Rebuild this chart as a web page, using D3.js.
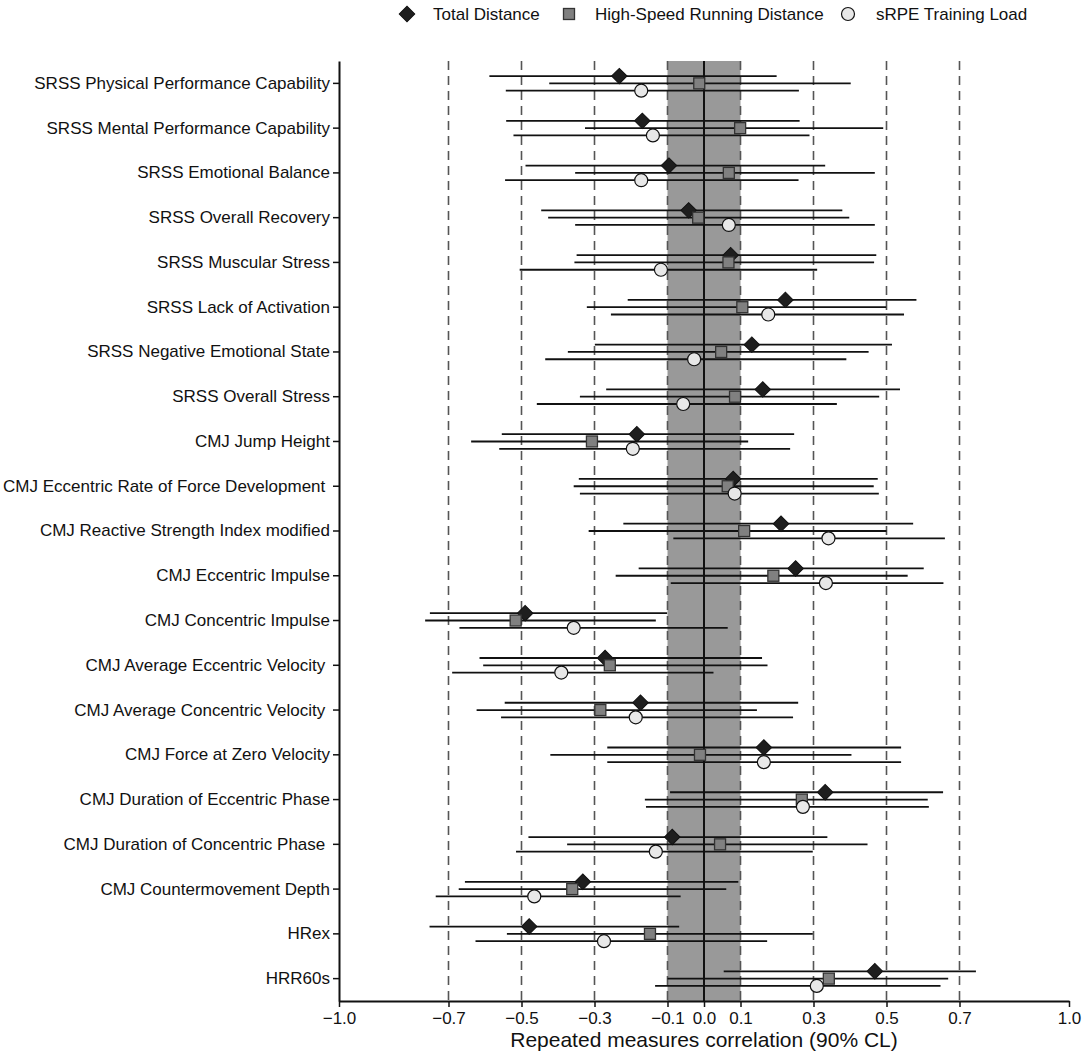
<!DOCTYPE html>
<html>
<head>
<meta charset="utf-8">
<script src="https://cdn.jsdelivr.net/npm/d3@7"></script>
<style>
  body { margin: 0; background: #fff; }
  text { font-family: "Liberation Sans", Arial, sans-serif; fill: #111; }
</style>
</head>
<body>
<script>
var labels = [
  'SRSS Physical Performance Capability',
  'SRSS Mental Performance Capability',
  'SRSS Emotional Balance',
  'SRSS Overall Recovery',
  'SRSS Muscular Stress',
  'SRSS Lack of Activation',
  'SRSS Negative Emotional State',
  'SRSS Overall Stress',
  'CMJ Jump Height',
  'CMJ Eccentric Rate of Force Development ',
  'CMJ Reactive Strength Index modified',
  'CMJ Eccentric Impulse',
  'CMJ Concentric Impulse',
  'CMJ Average Eccentric Velocity ',
  'CMJ Average Concentric Velocity ',
  'CMJ Force at Zero Velocity',
  'CMJ Duration of Eccentric Phase',
  'CMJ Duration of Concentric Phase ',
  'CMJ Countermovement Depth',
  'HRex',
  'HRR60s'
]

var seriesNames = ['Total Distance', 'High-Speed Running Distance', 'sRPE Training Load']

// total distance
var tdEst = [-0.232, -0.169, -0.096, -0.042, 0.073, 0.223, 0.131, 0.161, -0.184, 0.080, 0.211, 0.251, -0.490, -0.271, -0.174, 0.164, 0.332, -0.087, -0.332, -0.479, 0.468]
var tdLo  = [-0.588, -0.542, -0.489, -0.446, -0.349, -0.209, -0.299, -0.268, -0.554, -0.343, -0.221, -0.179, -0.751, -0.615, -0.546, -0.265, -0.093, -0.481, -0.655, -0.752, 0.054]
var tdHi  = [0.199, 0.262, 0.332, 0.379, 0.472, 0.582, 0.515, 0.537, 0.247, 0.476, 0.573, 0.602, -0.101, 0.159, 0.258, 0.540, 0.655, 0.338, 0.094, -0.068, 0.745]

// high-speed running
var hsrEst = [-0.013, 0.099, 0.068, -0.016, 0.067, 0.105, 0.047, 0.085, -0.307, 0.065, 0.110, 0.190, -0.516, -0.258, -0.284, -0.011, 0.268, 0.044, -0.361, -0.148, 0.342]
var hsrLo  = [-0.424, -0.326, -0.353, -0.427, -0.355, -0.321, -0.373, -0.340, -0.638, -0.357, -0.316, -0.242, -0.764, -0.605, -0.623, -0.421, -0.162, -0.375, -0.672, -0.540, -0.100]
var hsrHi  = [0.402, 0.491, 0.468, 0.398, 0.466, 0.499, 0.451, 0.480, 0.121, 0.465, 0.500, 0.558, -0.132, 0.174, 0.145, 0.404, 0.613, 0.448, 0.061, 0.298, 0.669]

// sRPE
var rpeEst = [-0.172, -0.140, -0.172, 0.068, -0.118, 0.176, -0.027, -0.057, -0.195, 0.084, 0.341, 0.334, -0.357, -0.391, -0.187, 0.164, 0.271, -0.132, -0.465, -0.274, 0.309]
var rpeLo  = [-0.543, -0.522, -0.545, -0.353, -0.505, -0.255, -0.435, -0.458, -0.561, -0.340, -0.084, -0.091, -0.670, -0.690, -0.556, -0.265, -0.159, -0.515, -0.735, -0.626, -0.134]
var rpeHi  = [0.260, 0.289, 0.259, 0.468, 0.310, 0.548, 0.390, 0.364, 0.236, 0.479, 0.660, 0.656, 0.065, 0.026, 0.244, 0.540, 0.616, 0.298, -0.064, 0.173, 0.648]

var xTicks = [-1.0, -0.7, -0.5, -0.3, -0.1, 0.0, 0.1, 0.3, 0.5, 0.7, 1.0]
var refLines = [-0.7, -0.5, -0.3, 0.3, 0.5, 0.7]
var trivialBand = [-0.1, 0.1]

var margin = {left: 339, top: 61, right: 15, bottom: 55}
var W = 1084, H = 1056
var width = W - margin.left - margin.right
var height = H - margin.top - margin.bottom
var font = '"Liberation Sans", Arial, sans-serif'

var svg = d3.select('body').append('svg').attr('width', W).attr('height', H)
var g = svg.append('g').attr('transform', 'translate(' + margin.left + ',' + margin.top + ')')

var x = d3.scaleLinear().domain([-1, 1]).range([0, width])
var y = d3.scaleBand().domain(labels).range([0, height])
var mid = function(l){ return y(l) + y.bandwidth() / 2 }

// trivial zone
g.append('rect')
  .attr('x', x(trivialBand[0])).attr('width', x(trivialBand[1]) - x(trivialBand[0]))
  .attr('y', 0).attr('height', height)
  .style('fill', '#999')

g.append('g').selectAll('line').data(refLines.concat(trivialBand)).enter().append('line')
  .attr('x1', x).attr('x2', x).attr('y1', 0).attr('y2', height)
  .style('stroke', '#555').style('stroke-width', 1.6).style('stroke-dasharray', '9,6')

g.append('line').attr('x1', x(0)).attr('x2', x(0)).attr('y1', 0).attr('y2', height)
  .style('stroke', '#111').style('stroke-width', 2)

var series = [
  {name: seriesNames[0], est: tdEst, lo: tdLo, hi: tdHi, off: -7.3},
  {name: seriesNames[1], est: hsrEst, lo: hsrLo, hi: hsrHi, off: 0},
  {name: seriesNames[2], est: rpeEst, lo: rpeLo, hi: rpeHi, off: 7.3}
]

var rows = series.map(function(s, si){
  return labels.map(function(l, i){
    return {label: l, si: si, est: s.est[i], lo: s.lo[i], hi: s.hi[i], cy: mid(l) + s.off}
  })
})

// confidence limits
rows.forEach(function(r){
  g.append('g').selectAll('line').data(r).enter().append('line')
    .attr('x1', function(d){ return x(d.lo) })
    .attr('x2', function(d){ return x(d.hi) })
    .attr('y1', function(d){ return d.cy })
    .attr('y2', function(d){ return d.cy })
    .style('stroke', '#111').style('stroke-width', 1.8)
})

function marker(sel, si){
  if (si === 0) {
    sel.append('path').attr('d', d3.symbol().type(d3.symbolSquare).size(120)())
      .attr('transform', 'rotate(45)')
      .style('fill', '#1e1e1e').style('stroke', '#111').style('stroke-width', 1)
  } else if (si === 1) {
    sel.append('rect').attr('x', -5.5).attr('y', -5.5).attr('width', 11).attr('height', 11)
      .style('fill', '#808080').style('stroke', '#333').style('stroke-width', 1.3)
  } else {
    sel.append('circle').attr('r', 6.5)
      .style('fill', '#e8e8e8').style('stroke', '#111').style('stroke-width', 1.2)
  }
}

rows.forEach(function(r, si){
  var pts = g.append('g').selectAll('g').data(r).enter().append('g')
    .attr('transform', function(d){ return 'translate(' + x(d.est) + ',' + d.cy + ')' })
  marker(pts, si)
})

// axes
var xAxis = d3.axisBottom(x).tickValues(xTicks).tickSize(6).tickSizeOuter(0)
  .tickFormat(d3.format('.1f'))
var gx = g.append('g').attr('transform', 'translate(0,' + height + ')').call(xAxis)
gx.select('.domain').style('stroke', '#111').style('stroke-width', 2)
gx.selectAll('.tick line').style('stroke', '#111').style('stroke-width', 1.5)
gx.selectAll('.tick text').attr('dy', '0.85em').style('font-size', '17px')
  .style('font-family', font).style('fill', '#111')

var yAxis = d3.axisLeft(y).tickSize(6).tickSizeOuter(0).tickPadding(3)
var gy = g.append('g').call(yAxis)
gy.select('.domain').style('stroke', '#111').style('stroke-width', 2)
gy.selectAll('.tick line').style('stroke', '#111').style('stroke-width', 1.5)
gy.selectAll('.tick text').style('font-size', '17px').style('white-space', 'pre')
  .style('font-family', font).style('fill', '#111')

svg.append('text').attr('x', margin.left + x(0)).attr('y', 1047)
  .attr('text-anchor', 'middle').style('font-size', '21px')
  .text('Repeated measures correlation (90% CL)')

// legend
var legendX = [407, 569, 848]
var legendTextX = [433, 595, 876]
var lg = svg.append('g')
seriesNames.forEach(function(n, si){
  var m = lg.append('g').attr('transform', 'translate(' + legendX[si] + ',14)')
  marker(m, si)
  lg.append('text').attr('x', legendTextX[si]).attr('y', 14).attr('dy', '0.35em')
    .style('font-size', '17px').text(n)
})
</script>
</body>
</html>
